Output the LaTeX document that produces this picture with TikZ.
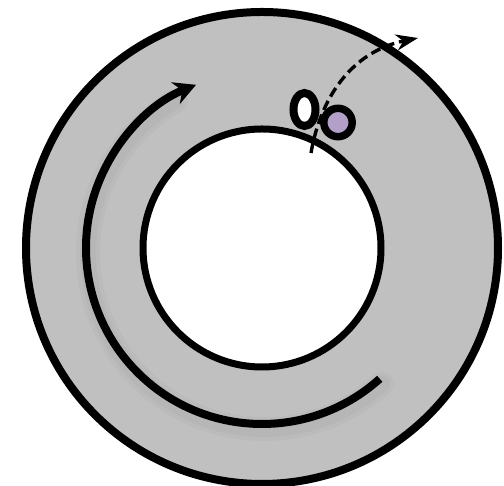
\documentclass[tikz,border=0pt]{standalone}
\usetikzlibrary{arrows.meta}
\begin{document}
\begin{tikzpicture}[x=1pt,y=1pt,
  ring/.style={draw=black, line width=8pt},
  flowarc/.style={line width=8pt, line cap=butt, -{Stealth[length=22pt,width=23pt,inset=7pt]}},
  pathline/.style={line width=3.4pt, dash pattern=on 10pt off 5pt, -{Stealth[length=22pt,width=16pt,inset=7pt]}},
  shadowline/.style={line width=#1, draw=black, opacity=0.025, line cap=round}
]
\definecolor{ringgray}{RGB}{192,192,192}
\definecolor{ionpurple}{RGB}{178,160,200}
\useasboundingbox (0,0) rectangle (504,486);
\fill[white] (0,0) rectangle (504,486);
\coordinate (c) at (262,238);
% outer ring
\fill[ringgray, ring] (c) circle[radius=236];
% shadow of arc
\foreach \w in {24pt,16pt}{
  \draw[shadowline=\w] ([shift={(-48:176)}]c) ++(2,-5) arc[start angle=-48, end angle=-240, radius=176];
}
% inner hole
\fill[white, draw=black, line width=7pt] (c) circle[radius=119];
% circulating arc
\coordinate (arcstart) at ([shift={(-48:176)}]c);
\draw[flowarc] (arcstart) arc[start angle=-48, end angle=-248, radius=176];
% dashed escape path
\coordinate (p0) at (311,333);
\coordinate (p3) at (418,448);
\draw[pathline] (p0) .. controls (320,386) and (350,434) .. (p3);
% particles
\coordinate (wp) at (304.5,376.5);
\coordinate (pp) at (338,363.5);
\draw[fill=white, line width=8pt] (wp) ellipse[x radius=11, y radius=16.5];
\draw[fill=ionpurple, line width=7.5pt] (pp) circle[radius=14.2];
\end{tikzpicture}
\end{document}
